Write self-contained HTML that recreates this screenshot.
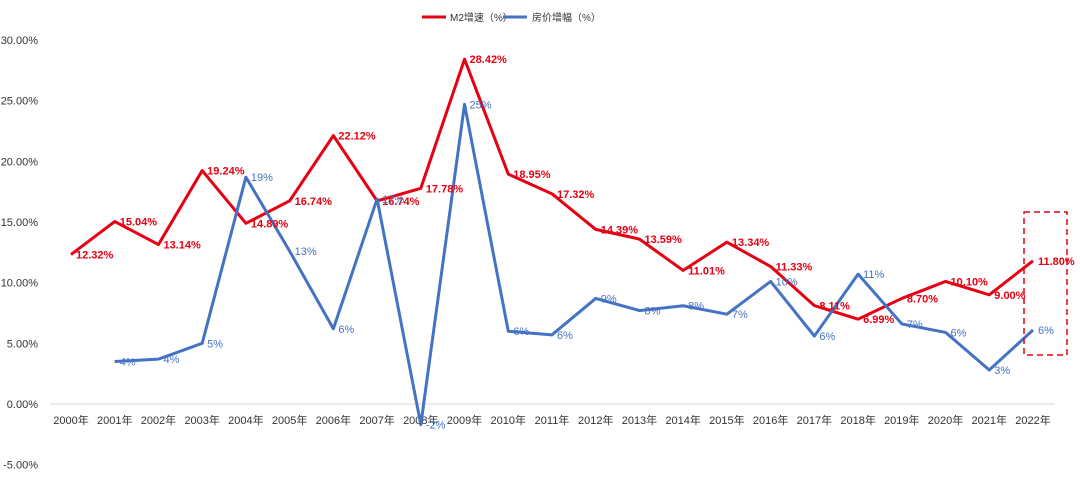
<!DOCTYPE html>
<html><head><meta charset="utf-8"><style>
body{margin:0;background:#fff;}
svg{display:block;font-family:"Liberation Sans","Noto Sans CJK SC",sans-serif;}
</style></head><body>
<svg id="chart" width="1080" height="478" viewBox="0 0 1080 478">
<g>
<line x1="422" y1="17" x2="446" y2="17" stroke="#e60012" stroke-width="3"/>
<text x="450" y="21" font-size="10" fill="#333">M2增速（%）</text>
<line x1="503" y1="17" x2="527" y2="17" stroke="#4472c4" stroke-width="3"/>
<text x="532" y="21" font-size="10" fill="#333">房价增幅（%）</text>
</g>
<g id="yaxis"></g>
<g id="xaxis"></g>
<g id="series"></g>
<rect x="1024" y="212" width="43" height="143" fill="none" stroke="#e60012" stroke-width="1.5" stroke-dasharray="6,4"/>
</svg>
<script>
const years=["2000年","2001年","2002年","2003年","2004年","2005年","2006年","2007年","2008年","2009年","2010年","2011年","2012年","2013年","2014年","2015年","2016年","2017年","2018年","2019年","2020年","2021年","2022年"];
const m2=[12.32,15.04,13.14,19.24,14.89,16.74,22.12,16.74,17.78,28.42,18.95,17.32,14.39,13.59,11.01,13.34,11.33,8.11,6.99,8.70,10.10,9.00,11.80];
const m2Labels=["12.32%","15.04%","13.14%","19.24%","14.89%","16.74%","22.12%","16.74%","17.78%","28.42%","18.95%","17.32%","14.39%","13.59%","11.01%","13.34%","11.33%","8.11%","6.99%","8.70%","10.10%","9.00%","11.80%"];
const house=[null,3.5,3.7,5.0,18.7,12.6,6.2,16.9,-1.7,24.7,6.0,5.7,8.7,7.7,8.1,7.4,10.1,5.6,10.7,6.6,5.9,2.8,6.1];
const houseLabels=["","4%","4%","5%","19%","13%","6%","17%","-2%","25%","6%","6%","9%","8%","8%","7%","10%","6%","11%","7%","6%","3%","6%"];
const yTicks=[30,25,20,15,10,5,0,-5];
const NS="http://www.w3.org/2000/svg";
const x=i=>71+i*(1033-71)/22;
const y=v=>404-v*(364/30);
function mk(t,a,p){const e=document.createElementNS(NS,t);for(const k in a)e.setAttribute(k,a[k]);p.appendChild(e);return e;}
const ya=document.getElementById('yaxis'),xa=document.getElementById('xaxis'),se=document.getElementById('series');
yTicks.forEach(v=>{const t=mk('text',{x:38,y:y(v)+4,'font-size':11,fill:'#333','text-anchor':'end'},ya);t.textContent=v.toFixed(2)+'%';

});
const ax=mk('line',{x1:50,x2:1055,y1:y(0),y2:y(0),stroke:'#d9d9d9'},xa);


years.forEach((s,i)=>{const t=mk('text',{x:x(i),y:424,'font-size':11,fill:'#333','text-anchor':'middle'},xa);t.textContent=s;

});
const mp=m2.map((v,i)=>x(i)+','+y(v)).join(' ');
const ml=mk('polyline',{points:mp,fill:'none',stroke:'#e60012','stroke-width':3,'stroke-linejoin':'round'},se);


const hp=house.map((v,i)=>v==null?null:x(i)+','+y(v)).filter(Boolean).join(' ');
const hl=mk('polyline',{points:hp,fill:'none',stroke:'#4472c4','stroke-width':3,'stroke-linejoin':'round'},se);


m2.forEach((v,i)=>{const t=mk('text',{x:x(i)+5,y:y(v)+4,'font-size':11,'font-weight':'bold',fill:'#e60012'},se);t.textContent=m2Labels[i];

});
house.forEach((v,i)=>{if(v==null)return;const t=mk('text',{x:x(i)+5,y:y(v)+4,'font-size':11,fill:'#4472c4'},se);t.textContent=houseLabels[i];

});
</script>
</body></html>
